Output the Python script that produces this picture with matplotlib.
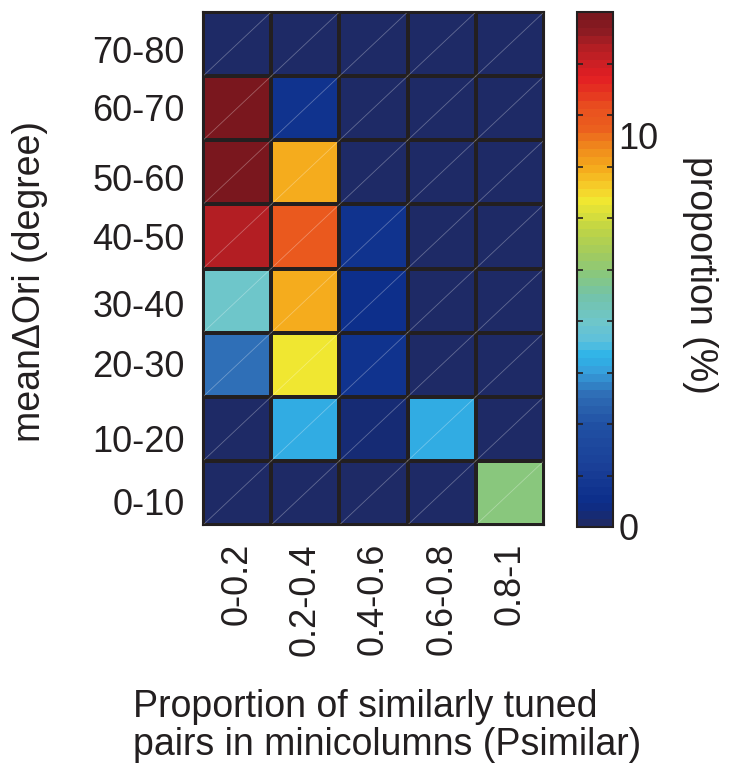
import numpy as np
import matplotlib
matplotlib.use("Agg")
import matplotlib.pyplot as plt
from matplotlib.colors import LinearSegmentedColormap

plt.rcParams["font.family"] = ["Liberation Sans", "DejaVu Sans"]

# ---- data -------------------------------------------------------------
psimilar_bins = ["0-0.2", "0.2-0.4", "0.4-0.6", "0.6-0.8", "0.8-1"]
dori_bins = ["0-10", "10-20", "20-30", "30-40", "40-50", "50-60", "60-70", "70-80"]

# proportion (%) per meanΔOri bin, one value per Psimilar bin
prop_0_10 = [0.0, 0.0, 0.0, 0.0, 6.4]
prop_10_20 = [0.0, 4.2, 0.4, 4.2, 0.0]
prop_20_30 = [3.3, 8.35, 0.9, 0.0, 0.0]
prop_30_40 = [5.3, 9.2, 0.65, 0.0, 0.0]
prop_40_50 = [12.2, 10.4, 0.9, 0.0, 0.0]
prop_50_60 = [13.0, 9.2, 0.0, 0.0, 0.0]
prop_60_70 = [13.0, 0.9, 0.0, 0.0, 0.0]
prop_70_80 = [0.0, 0.0, 0.0, 0.0, 0.0]

cbar_max = 13.15
cbar_labels = [0, 10]

# ---- style ------------------------------------------------------------
ink = "#231f20"
fs = 26
fs_title = 27
cmap = LinearSegmentedColormap.from_list(
    "printjet",
    [
        (0.00, "#1e2a66"),
        (0.04, "#0b2d8a"),
        (0.11, "#1a3f97"),
        (0.19, "#2050a3"),
        (0.25, "#2e6bb4"),
        (0.30, "#36a0dc"),
        (0.33, "#2db4e8"),
        (0.36, "#5ec0dc"),
        (0.40, "#6fc6c8"),
        (0.45, "#74c3a8"),
        (0.49, "#88c77f"),
        (0.53, "#a2cb5e"),
        (0.58, "#c0d545"),
        (0.635, "#f0e731"),
        (0.66, "#f6d02a"),
        (0.70, "#f5aa1c"),
        (0.74, "#f08a1c"),
        (0.78, "#eb5e1e"),
        (0.82, "#e9501f"),
        (0.85, "#e53321"),
        (0.88, "#e21d23"),
        (0.91, "#c81f24"),
        (0.94, "#b01e23"),
        (0.97, "#8b1b22"),
        (1.00, "#7a171e"),
    ],
    N=64,
)

# small vertical nudges (px, downward) for the row labels, bottom to top
ylabel_nudge_px = [9, 10, -1, 3, 0, 5, -1, 5]

W, H = 729, 772
fig = plt.figure(figsize=(W / 100, H / 100), dpi=100)
ax = fig.add_axes([203 / W, 1 - 525 / H, 341 / W, 513 / H])

grid = np.array([prop_0_10, prop_10_20, prop_20_30, prop_30_40,
                 prop_40_50, prop_50_60, prop_60_70, prop_70_80])
nrow, ncol = grid.shape
mesh = ax.pcolormesh(np.arange(ncol + 1), np.arange(nrow + 1), grid,
                     cmap=cmap, vmin=0, vmax=cbar_max,
                     edgecolors=ink, linewidth=1.5)

# faint diagonal seam across each cell
for i in range(nrow):
    for j in range(ncol):
        ax.plot([j, j + 1], [i, i + 1], color="white", alpha=0.3, lw=0.6)

ax.set_xlim(0, ncol)
ax.set_ylim(0, nrow)
ax.set_xticks(np.arange(ncol) + 0.5)
ax.set_xticklabels(psimilar_bins, rotation=90, fontsize=fs, color=ink)
row_px = 513 / nrow
ax.set_yticks([i + 0.5 - ylabel_nudge_px[i] / row_px for i in range(nrow)])
ax.set_yticklabels(dori_bins, fontsize=fs, color=ink)
ax.tick_params(axis="x", length=0, pad=13)
ax.tick_params(axis="y", length=0, pad=13)
for s in ax.spines.values():
    s.set_color(ink)
    s.set_linewidth(1.5)

# ---- colorbar -----------------------------------------------------------
cax = fig.add_axes([577 / W, 1 - 527 / H, 36 / W, 515 / H])
cb = fig.colorbar(mesh, cax=cax)
cb.set_ticks(cbar_labels)
cb.set_ticklabels([str(v) for v in cbar_labels])
cb.set_ticks(np.linspace(0, cbar_max, 11), minor=True)
cax.tick_params(which="major", length=0, labelsize=fs, labelcolor=ink, pad=4)
cax.tick_params(which="minor", direction="in", length=4, width=1.2,
                color=ink, left=True, right=True)
cb.outline.set_edgecolor(ink)
cb.outline.set_linewidth(1.5)

# ---- axis titles --------------------------------------------------------
fig.text(30 / W, 1 - 282 / H, "meanΔOri (degree)", rotation=90,
         ha="center", va="center", fontsize=fs_title, color=ink)
fig.text(700 / W, 1 - 275 / H, "proportion (%)", rotation=-90,
         ha="center", va="center", fontsize=fs_title, color=ink)
fig.text(133 / W, 1 - 726 / H,
         "Proportion of similarly tuned\npairs in minicolumns (Psimilar)",
         ha="left", va="center", multialignment="left", linespacing=1.1,
         fontsize=fs_title, color=ink)

fig.savefig("out.png", dpi=100)
